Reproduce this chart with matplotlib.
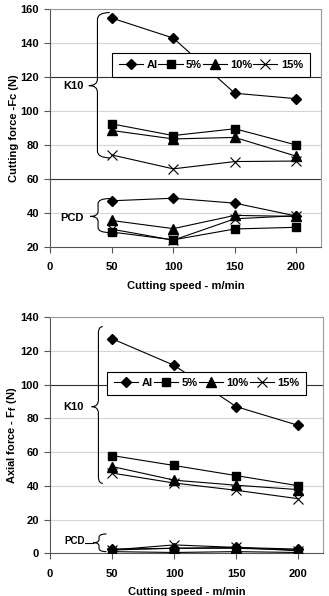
import matplotlib
matplotlib.use("Agg")
import matplotlib.pyplot as plt
from matplotlib.path import Path
from matplotlib.patches import PathPatch

plt.rcParams['font.family'] = ['Liberation Sans', 'DejaVu Sans']
plt.rcParams['font.weight'] = 'bold'
plt.rcParams['axes.labelweight'] = 'bold'
plt.rcParams['font.size'] = 8

speed = [50, 100, 150, 200]
series = ["Al", "5%", "10%", "15%"]

# cutting force, K10 tool
fc_k10_al = [154.8, 143.0, 110.5, 107.3]
fc_k10_5 = [92.5, 85.6, 89.6, 80.0]
fc_k10_10 = [88.6, 83.6, 84.5, 73.4]
fc_k10_15 = [74.2, 66.0, 70.3, 70.6]
# cutting force, PCD tool
fc_pcd_al = [47.2, 48.7, 45.8, 38.2]
fc_pcd_5 = [28.8, 24.2, 30.6, 31.6]
fc_pcd_10 = [35.6, 30.8, 38.6, 38.0]
fc_pcd_15 = [30.5, 24.0, 36.6, 38.4]

# axial force, K10 tool
ff_k10_al = [127.3, 111.5, 87.0, 75.9]
ff_k10_5 = [58.0, 52.1, 46.1, 40.1]
ff_k10_10 = [51.5, 43.4, 40.4, 37.8]
ff_k10_15 = [47.6, 41.7, 37.4, 32.4]
# axial force, PCD tool
ff_pcd_al = [2.5, 3.0, 3.5, 2.5]
ff_pcd_5 = [1.0, 0.5, 1.0, 0.5]
ff_pcd_10 = [2.0, 3.0, 3.0, 2.0]
ff_pcd_15 = [2.0, 5.0, 3.5, 1.5]

styles = {
    "Al": dict(marker="D", ms=5.5),
    "5%": dict(marker="s", ms=6),
    "10%": dict(marker="^", ms=6.5),
    "15%": dict(marker="x", ms=6.5, mew=0.8),
}


def brace(ax, x_end, x_spine, x_tip, y_bot, y_top, y_tip, r):
    verts = [
        (x_end, y_top), (x_spine, y_top), (x_spine, y_top - r),
        (x_spine, y_tip + r),
        (x_spine, y_tip), (x_tip, y_tip),
        (x_spine, y_tip), (x_spine, y_tip - r),
        (x_spine, y_bot + r),
        (x_spine, y_bot), (x_end, y_bot),
    ]
    codes = [Path.MOVETO, Path.CURVE3, Path.CURVE3, Path.LINETO,
             Path.CURVE3, Path.CURVE3, Path.CURVE3, Path.CURVE3,
             Path.LINETO, Path.CURVE3, Path.CURVE3]
    ax.add_patch(PathPatch(Path(verts, codes), fill=False, lw=0.8,
                           ec="black", clip_on=False))


def draw_panel(ax, k10, pcd, ylim, yticks, dark, ylabel, leg_box):
    ax.set_xlim(0, 220)
    ax.set_ylim(*ylim)
    ax.set_xticks([0, 50, 100, 150, 200])
    ax.set_yticks(yticks)
    for y in yticks:
        if y in dark:
            ax.axhline(y, color="#333333", lw=0.8, zorder=1)
        elif y != ylim[0]:
            ax.axhline(y, color="#d4d4d4", lw=0.8, zorder=1)
    handles = []
    for name, vals in zip(series, k10):
        h, = ax.plot(speed, vals, color="black", lw=0.8, mfc="black",
                     mec="black", zorder=3, **styles[name])
        handles.append(h)
    for name, vals in zip(series, pcd):
        ax.plot(speed, vals, color="black", lw=0.8, mfc="black",
                mec="black", zorder=3, **styles[name])
    for s in ["top", "right"]:
        ax.spines[s].set_color("#9a9a9a")
        ax.spines[s].set_linewidth(0.8)
    for s in ["left", "bottom"]:
        ax.spines[s].set_color("#555555")
        ax.spines[s].set_linewidth(0.8)
    ax.tick_params(direction="out", length=4, width=0.8, color="#555555",
                   labelsize=8, pad=4)
    ax.tick_params(axis="x", pad=7)
    for lab in ax.get_xticklabels() + ax.get_yticklabels():
        lab.set_fontweight("bold")
    ax.set_xlabel("Cutting speed - m/min", fontsize=8, labelpad=6)
    ax.set_ylabel(ylabel, fontsize=8, labelpad=1)
    leg = ax.legend(handles, series, ncol=4, loc="center",
                    bbox_to_anchor=leg_box, mode="expand", frameon=True,
                    fancybox=False, edgecolor="black", framealpha=1,
                    handlelength=2.2, handletextpad=0.3, columnspacing=0.5,
                    borderpad=0.6, prop=dict(size=8, weight="bold"))
    leg.get_frame().set_linewidth(0.8)
    leg.set_zorder(5)


fig = plt.figure(figsize=(3.29, 5.96), dpi=100)

ax1 = fig.add_axes([0.152, 0.5856, 0.824, 0.399])
draw_panel(ax1,
           [fc_k10_al, fc_k10_5, fc_k10_10, fc_k10_15],
           [fc_pcd_al, fc_pcd_5, fc_pcd_10, fc_pcd_15],
           (20, 160), [20, 40, 60, 80, 100, 120, 140, 160], (60, 120),
           "Cutting force -Fc (N)", (0.209, 0.705, 0.769, 0.12))
brace(ax1, 48.5, 38.5, 31.5, 72.5, 158, 115, 4)
ax1.text(19, 115, "K10", ha="center", va="center")
brace(ax1, 48.5, 39, 32.5, 28.5, 48.5, 38, 3)
ax1.text(18, 37, "PCD", ha="center", va="center")

ax2 = fig.add_axes([0.152, 0.0716, 0.83, 0.396])
draw_panel(ax2,
           [ff_k10_al, ff_k10_5, ff_k10_10, ff_k10_15],
           [ff_pcd_al, ff_pcd_5, ff_pcd_10, ff_pcd_15],
           (0, 140), [0, 20, 40, 60, 80, 100, 120, 140], (100,),
           "Axial force - F$_\\mathbf{f}$ (N)", (0.189, 0.674, 0.77, 0.093))
brace(ax2, 42.5, 39, 33.5, 41.5, 134.5, 87, 4)
ax2.text(18.5, 87, "K10", ha="center", va="center")
brace(ax2, 45.5, 39.5, 35, 1, 11.5, 6.3, 2)
ax2.plot([28, 35], [6.3, 6.3], color="black", lw=0.8, clip_on=False)
ax2.text(20, 7.5, "PCD", ha="center", va="center", fontsize=7)

fig.savefig("out.png", dpi=100)
